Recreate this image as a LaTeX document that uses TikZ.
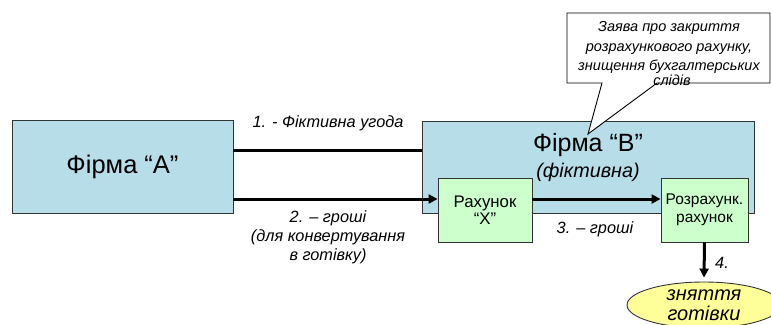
\documentclass[tikz,border=0pt]{standalone}
\usepackage{fontspec}
\setmainfont{Liberation Sans}
\usetikzlibrary{arrows.meta,shapes.geometric}
\definecolor{firmblue}{HTML}{B7DDE8}
\definecolor{accgreen}{HTML}{CCFFCC}
\definecolor{cashyellow}{HTML}{FFFF99}
\definecolor{edgegray}{HTML}{333333}
\begin{document}
\begin{tikzpicture}[x=1pt,y=-1pt,
  firmbox/.style={draw=edgegray,line width=0.9pt,fill=firmblue,minimum width=#1,inner sep=0pt},
  accbox/.style={draw=edgegray,line width=0.9pt,fill=accgreen,minimum width=#1,minimum height=64pt,inner sep=0pt,align=center,font=\fontsize{16.8}{17}\selectfont},
  flow/.style={line width=3pt,-{Triangle[length=9pt,width=9pt]}},
  plainflow/.style={line width=3pt},
  lbl/.style={font=\fontsize{16.3}{19}\selectfont\itshape,align=center,inner sep=0pt}
]
\useasboundingbox (0,0) rectangle (771,324);
\node[firmbox=221pt,minimum height=93pt,font=\fontsize{25.5}{26}\selectfont] (FA) at (122.5,166.5) {Фірма “A”};
\node[firmbox=332pt,minimum height=92pt] (FB) at (588,167) {};
\node[font=\fontsize{25}{25}\selectfont,inner sep=0pt] (FBt) at (588,145) {Фірма “B”};
\node[font=\fontsize{19.8}{20}\selectfont\itshape,inner sep=0pt] (FBs) at (588,172) {(фіктивна)};
\node[accbox=94pt] (X) at (485,210) {Рахунок\\“X”};
\node[accbox=87pt,font=\fontsize{15.5}{17.5}\selectfont] (R) at (704.5,210) {Розрахунк.\\рахунок};
\node[ellipse,draw=edgegray,line width=0.9pt,fill=cashyellow,minimum width=154pt,minimum height=46pt,inner sep=0pt,align=center,font=\fontsize{20}{20}\selectfont\itshape] (E) at (704,305) {зняття\\готівки};
% callout
\coordinate (CT) at (588,134);
\draw[line width=0.9pt,fill=white] (602,83) -- (567,83) -- (567,13) -- (770,13) -- (770,83) -- (657,83) -- (CT) -- cycle;
\node[lbl,font=\fontsize{14.5}{19.5}\selectfont\itshape] (CTxt) at (669,47.5) {Заява про закриття\\розрахункового рахунку,\\знищення бухгалтерських};
\node[lbl,font=\fontsize{14.5}{18.5}\selectfont\itshape] (CTx2) at (672,80.5) {слідів};
% connectors
\draw[plainflow] ([yshift=16.5pt]FA.east) -- ([yshift=16.5pt]FA.east -| FB.west);
\draw[flow] ([yshift=11pt]X.west -| FA.east) -- ([yshift=11pt]X.west);
\draw[flow] ([yshift=11pt]X.east) -- ([yshift=11pt]R.west);
\draw[flow] (R.south) -- ([yshift=4pt]E.north);
% labels
\node[lbl] (L1) at (328,123) {1. - Фіктивна угода};
\node[lbl] (L2) at (328,237) {2. – гроші\\(для конвертування\\в готівку)};
\node[lbl] (L3) at (595,229) {3. – гроші};
\node[lbl] (L4) at (722,263) {4.};
\end{tikzpicture}
\end{document}
